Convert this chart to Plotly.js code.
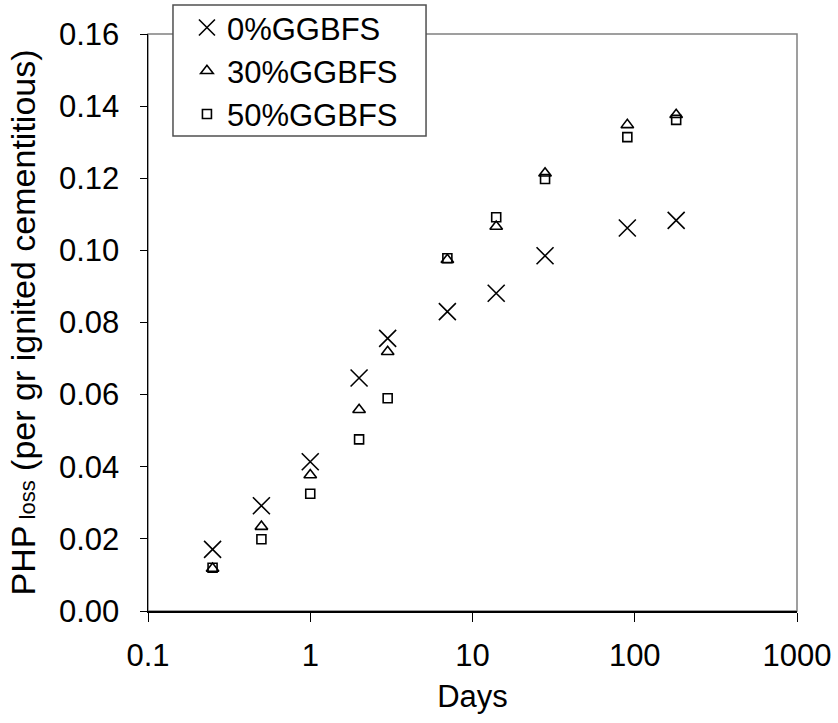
<!DOCTYPE html>
<html>
<head>
<meta charset="utf-8">
<script src="https://cdn.plot.ly/plotly-3.0.1.min.js"></script>
<style>html,body{margin:0;padding:0;background:#fff;}#chart{width:838px;height:723px;}</style>
</head>
<body>
<div id="chart"></div>
<script>
const days = [0.25, 0.5, 1, 2, 3, 7, 14, 28, 90, 180];
const ggbfs0 = [0.0171, 0.0292, 0.0414, 0.0646, 0.0756, 0.0830, 0.0881, 0.0985, 0.1062, 0.1083];
const ggbfs30 = [0.0118, 0.0234, 0.0377, 0.0558, 0.0719, 0.0974, 0.1066, 0.1214, 0.1348, 0.1376];
const ggbfs50 = [0.0120, 0.0199, 0.0325, 0.0476, 0.0590, 0.0978, 0.1092, 0.1198, 0.1314, 0.1362];
const seriesNames = ['0%GGBFS', '30%GGBFS', '50%GGBFS'];
const xTickVals = [0.1, 1, 10, 100, 1000];
const xTickText = ['0.1', '1', '10', '100', '1000'];

const FONT = 'Liberation Sans, Arial, sans-serif';
const FS = 31;
const traces = [
  {x: days, y: ggbfs0, name: seriesNames[0], legendgroup: 'a', mode: 'markers', type: 'scatter',
   marker: {symbol: 'x-thin-open', size: 17, color: '#000', line: {color: '#000', width: 1.6}}},
  {x: days, y: ggbfs30, name: seriesNames[1], legendgroup: 'b', mode: 'markers', type: 'scatter',
   marker: {symbol: 'triangle-up-open', size: 11, color: '#000', line: {color: '#000', width: 1.6}}},
  {x: days, y: ggbfs50, name: seriesNames[2], legendgroup: 'c', mode: 'markers', type: 'scatter',
   marker: {symbol: 'square-open', size: 9, color: '#000', line: {color: '#000', width: 1.6}}}
];

const layout = {
  width: 838, height: 723,
  margin: {l: 148, r: 41, t: 34, b: 112, pad: 0, autoexpand: false},
  paper_bgcolor: '#fff', plot_bgcolor: '#fff',
  font: {family: FONT, size: FS, color: '#000'},
  showlegend: true,
  legend: {x: 0.060, y: 1.0575, xanchor: 'left', yanchor: 'top',
    bgcolor: 'rgba(0,0,0,0)', borderwidth: 0,
    font: {family: FONT, size: FS, color: '#000'}, tracegroupgap: 0},
  xaxis: {type: 'log', range: [-1, 3], tickvals: xTickVals, ticktext: xTickText, automargin: false,
    showgrid: false, zeroline: false, showline: true, linecolor: '#000', linewidth: 1.5,
    ticks: 'outside', ticklen: 9, tickcolor: '#000', tickwidth: 1, ticklabelstandoff: 7,
    tickfont: {family: FONT, size: FS, color: '#000'},
    title: {text: 'Days', font: {family: FONT, size: FS, color: '#000'}, standoff: 13}},
  yaxis: {range: [0, 0.16], dtick: 0.02, tick0: 0, tickformat: '.2f', automargin: false,
    showgrid: false, zeroline: false, showline: true, linecolor: '#000', linewidth: 1.5,
    ticks: 'outside', ticklen: 7, tickcolor: '#000', tickwidth: 1, ticklabelstandoff: 14,
    tickfont: {family: FONT, size: FS, color: '#000'},
    title: {text: 'PHP<span style="font-size:22px"> loss</span> (per gr ignited cementitious)',
      font: {family: FONT, size: 34, color: '#000'}, standoff: 13}},
  shapes: [
    {type: 'rect', xref: 'paper', yref: 'paper', x0: 0, x1: 1, y0: 0, y1: 1,
     line: {color: '#808080', width: 1.5}, layer: 'below'},
    {type: 'rect', xref: 'paper', yref: 'paper', x0: 0.0385, x1: 0.4284, y0: 0.8232, y1: 1.0503,
     fillcolor: '#fff', line: {color: '#505050', width: 1.5}, layer: 'above'}
  ]
};

Plotly.newPlot('chart', traces, layout, {displayModeBar: false, staticPlot: true});
</script>
</body>
</html>
